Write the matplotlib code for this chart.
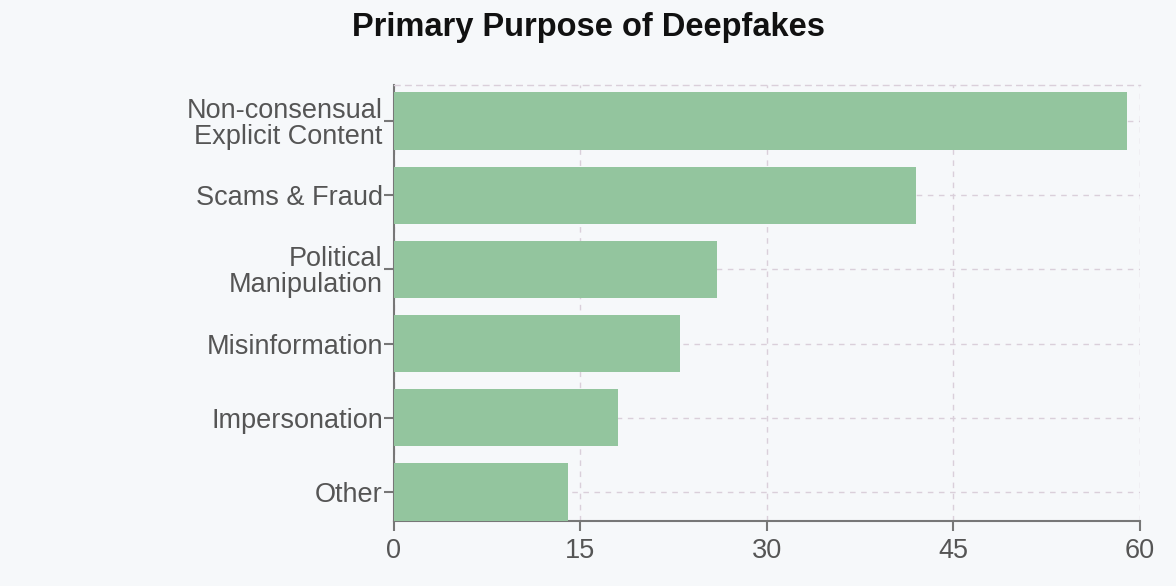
"""
Primary Purpose of Deepfakes - horizontal bar chart
"""

import matplotlib.pyplot as plt


categories = [
    "Non-consensual\nExplicit Content",
    "Scams & Fraud",
    "Political\nManipulation",
    "Misinformation",
    "Impersonation",
    "Other",
]

values = [59, 42, 26, 23, 18, 14]

x_ticks = [0, 15, 30, 45, 60]

TITLE = "Primary Purpose of Deepfakes"


def main():

    plt.rcParams["font.family"] = ["Liberation Sans", "DejaVu Sans"]

    bg = "#f6f8fa"
    axis_color = "#777777"
    grid_color = "#dacfda"

    fig = plt.figure(figsize=(11.76, 5.86), dpi=100, facecolor=bg)
    ax = fig.add_axes([0.335, 0.111, 0.634, 0.744])
    ax.set_facecolor(bg)

    positions = list(range(len(categories)))

    ax.barh(
        positions,
        values,
        height=0.77,
        color="#93c59e",
        zorder=3
    )

    ax.set_xlim(0, 60)
    ax.set_ylim(len(categories) - 0.61, -0.485)

    ax.set_xticks(x_ticks)
    ax.set_yticks(positions)
    ax.set_yticklabels(categories)

    # dashed grid behind the bars
    ax.grid(
        True,
        color=grid_color,
        linestyle=(0, (4, 4)),
        linewidth=1,
        zorder=0
    )

    for side in ["left", "bottom"]:
        ax.spines[side].set_color(axis_color)
        ax.spines[side].set_linewidth(1.5)

    ax.spines["right"].set_visible(False)
    ax.spines["top"].set_color(grid_color)
    ax.spines["top"].set_linestyle((0, (4, 4)))
    ax.spines["top"].set_linewidth(1)

    ax.tick_params(
        axis="both",
        colors=axis_color,
        labelcolor="#555555",
        labelsize=19.5,
        length=7,
        width=1.5
    )
    ax.tick_params(axis="y", pad=1)
    ax.tick_params(axis="x", pad=5)

    for label in ax.get_yticklabels():
        label.set_linespacing(1.0)

    fig.text(
        0.5,
        0.953,
        TITLE,
        ha="center",
        va="center",
        fontsize=23.5,
        fontweight="bold",
        color="#111111"
    )

    plt.savefig("out.png", dpi=100, facecolor=bg)
    plt.close()


if __name__ == "__main__":
    main()
